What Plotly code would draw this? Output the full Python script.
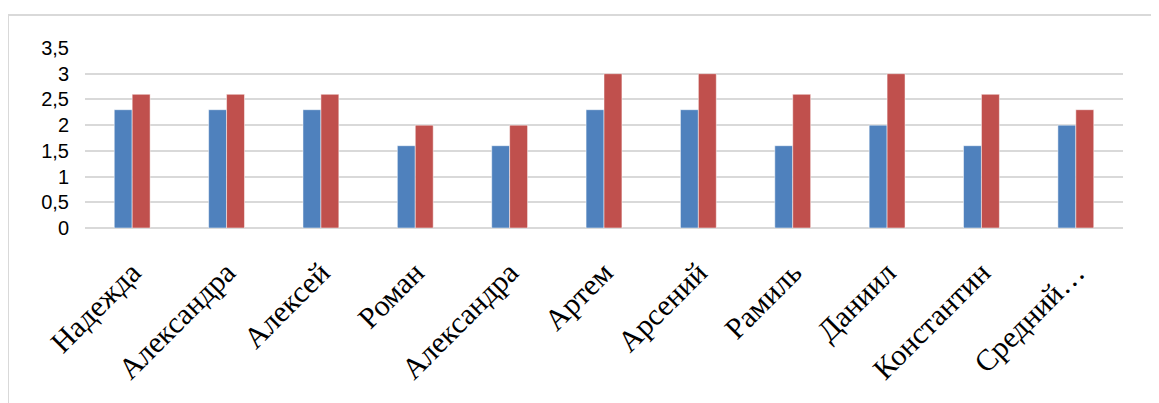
import plotly.graph_objects as go

categories = ["Надежда", "Александра", "Алексей", "Роман", "Александра",
              "Артем", "Арсений", "Рамиль", "Даниил", "Константин", "Средний…"]
series_1 = [2.3, 2.3, 2.3, 1.6, 1.6, 2.3, 2.3, 1.6, 2.0, 1.6, 2.0]
series_2 = [2.6, 2.6, 2.6, 2.0, 2.0, 3.0, 3.0, 2.6, 3.0, 2.6, 2.3]
y_ticks = [0, 0.5, 1, 1.5, 2, 2.5, 3, 3.5]
y_tick_labels = ["0", "0,5", "1", "1,5", "2", "2,5", "3", "3,5"]

x_pos = list(range(len(categories)))

fig = go.Figure()
fig.add_trace(go.Bar(x=x_pos, y=series_1, name="Ряд1", marker_color="#4F81BD",
                     marker_line=dict(color="#FFFFFF", width=0.5)))
fig.add_trace(go.Bar(x=x_pos, y=series_2, name="Ряд2", marker_color="#C0504D",
                     marker_line=dict(color="#FFFFFF", width=0.5)))

OFF = 8  # page body margin
W, H = 1159, 403
ml, mt = 85 - OFF, 48 - OFF
pw, ph = 1038, 180
mr = W - ml - pw
mb = H - mt - ph

def px_to_paper_x(px):
    return (px - OFF - ml) / pw

def px_to_paper_y(py):
    return (mt + ph - (py - OFF)) / ph

fig.add_shape(type="rect", xref="paper", yref="paper",
              x0=px_to_paper_x(8), x1=px_to_paper_x(1180),
              y0=px_to_paper_y(430), y1=px_to_paper_y(15),
              line=dict(color="#D9D9D9", width=2), fillcolor="rgba(0,0,0,0)",
              layer="below")

fig.update_layout(
    width=W, height=H,
    margin=dict(l=ml, r=mr, t=mt, b=mb, pad=0),
    paper_bgcolor="white", plot_bgcolor="white",
    barmode="group", bargap=0.62, bargroupgap=0,
    showlegend=False,
    xaxis=dict(
        tickmode="array", tickvals=x_pos, ticktext=categories,
        range=[-0.5, len(categories) - 0.5],
        tickangle=-45, showgrid=False, zeroline=False, showline=False,
        ticks="", ticklabelstandoff=20, automargin=False,
        tickfont=dict(family="Liberation Serif", size=30, color="#000000"),
    ),
    yaxis=dict(
        range=[0, 3.5], tickmode="array", tickvals=y_ticks, ticktext=y_tick_labels,
        showgrid=True, gridcolor="#D9D9D9", gridwidth=1.5,
        zeroline=True, zerolinecolor="#D9D9D9", zerolinewidth=1.5,
        showline=False, ticks="", ticklabelstandoff=15, automargin=False,
        tickfont=dict(family="Liberation Sans", size=20, color="#000000"),
    ),
)

fig.write_html("out.html")
